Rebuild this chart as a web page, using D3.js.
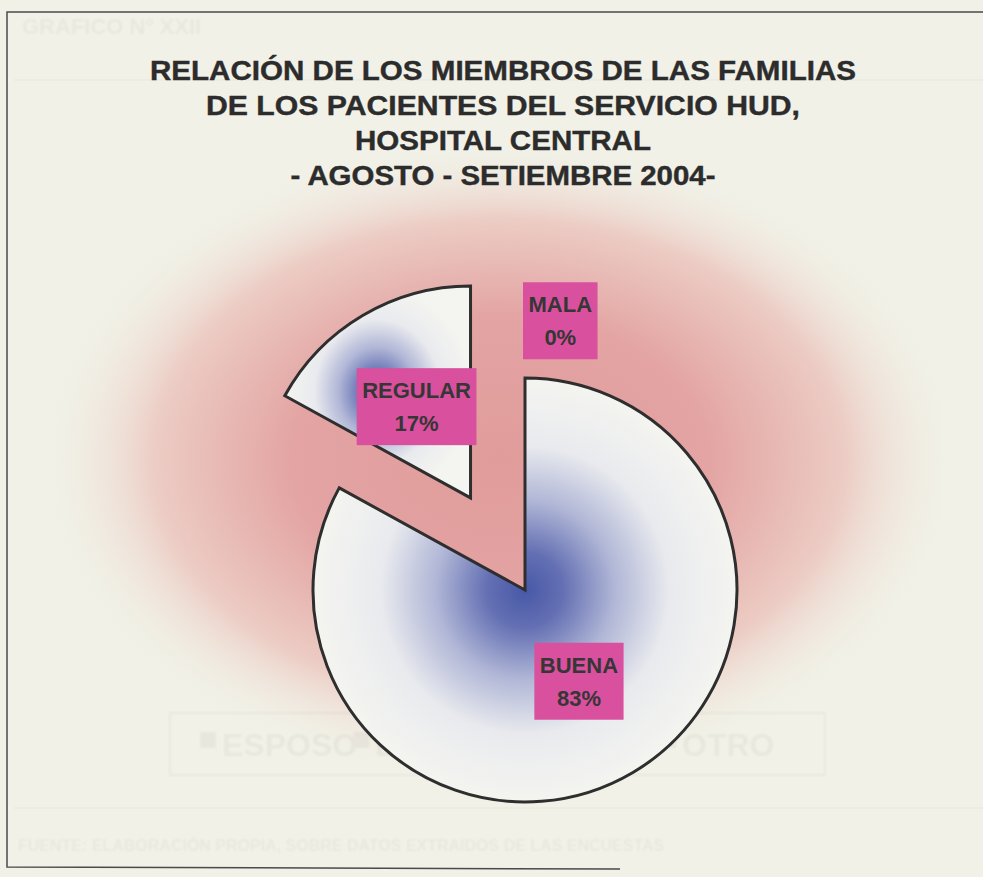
<!DOCTYPE html>
<html>
<head>
<meta charset="utf-8">
<script src="https://cdn.jsdelivr.net/npm/d3@7"></script>
<style>
  html, body { margin: 0; padding: 0; background: #f1f1e7; }
  svg { display: block; font-family: "Liberation Sans", Arial, sans-serif; }
</style>
</head>
<body>
<svg id="chart" width="983" height="877"></svg>
<script>
var categories = ["BUENA", "REGULAR", "MALA"],
    values = [83, 17, 0],
    titleLines = [
      "RELACIÓN DE LOS MIEMBROS DE LAS FAMILIAS",
      "DE LOS PACIENTES DEL SERVICIO HUD,",
      "HOSPITAL CENTRAL",
      "- AGOSTO - SETIEMBRE 2004-"
    ],
    titleWidths = [706, 594, 296, 425];

// faint print showing through from the other side of the sheet
var ghostLegend = ["ESPOSO", "ESPOSA", "AMBOS", "OTRO"];

var svg = d3.select("#chart"),
    width = 983,
    height = 877,
    cx = 525, cy = 590, radius = 212,
    explode = {REGULAR: 107};

var defs = svg.append("defs");

var glow = defs.append("radialGradient").attr("id", "glow");
glow.append("stop").attr("offset", "0").attr("stop-color", "#e09c9b");
glow.append("stop").attr("offset", "0.45").attr("stop-color", "#e3a4a3");
glow.append("stop").attr("offset", "0.75").attr("stop-color", "#ecccc4");
glow.append("stop").attr("offset", "1").attr("stop-color", "#f1f1e7").attr("stop-opacity", 0);

var blue = defs.append("radialGradient").attr("id", "blueFill");
blue.append("stop").attr("offset", "0").attr("stop-color", "#4858a7");
blue.append("stop").attr("offset", "0.18").attr("stop-color", "#6470b3");
blue.append("stop").attr("offset", "0.42").attr("stop-color", "#b0b6d6");
blue.append("stop").attr("offset", "0.68").attr("stop-color", "#e9eaee");
blue.append("stop").attr("offset", "1").attr("stop-color", "#f4f5f0");

defs.append("filter").attr("id", "soft")
  .append("feGaussianBlur").attr("stdDeviation", 1.2);

// paper + pink glow
svg.append("rect").attr("width", width).attr("height", height).attr("fill", "#f1f1e7");
svg.append("rect")
    .attr("x", 40).attr("y", 140)
    .attr("width", 920).attr("height", 640)
    .attr("fill", "url(#glow)");

// ghost print
var ghost = svg.append("g").attr("fill", "#000").attr("opacity", 0.035)
    .attr("font-weight", "bold").attr("filter", "url(#soft)");
ghost.append("text").attr("x", 22).attr("y", 34).attr("font-size", 22).text("GRAFICO Nº XXII");
ghost.append("rect").attr("x", 170).attr("y", 713).attr("width", 655).attr("height", 62)
    .attr("fill", "none").attr("stroke", "#000").attr("stroke-width", 2);
var lx = d3.scalePoint().domain(ghostLegend).range([200, 660]);
ghost.selectAll(".gl").data(ghostLegend).enter().append("text")
    .attr("x", function(d) { return lx(d) + 22; })
    .attr("y", 756)
    .attr("font-size", 32)
    .text(function(d) { return d; });
ghost.selectAll(".gs").data(ghostLegend).enter().append("rect")
    .attr("x", function(d) { return lx(d); })
    .attr("y", 732).attr("width", 16).attr("height", 16);
ghost.append("text").attr("x", 18).attr("y", 851).attr("font-size", 16)
    .text("FUENTE: ELABORACIÓN PROPIA, SOBRE DATOS EXTRAIDOS DE LAS ENCUESTAS");
svg.append("line").attr("x1", 14).attr("x2", width).attr("y1", 80).attr("y2", 80)
    .attr("stroke", "#000").attr("opacity", 0.04);
svg.append("line").attr("x1", 14).attr("x2", width).attr("y1", 808).attr("y2", 808)
    .attr("stroke", "#000").attr("opacity", 0.04);

// frame
svg.append("path")
    .attr("d", "M" + width + ",12 L7,12 L7,867 L620,869")
    .attr("fill", "none").attr("stroke", "#4a4a4a").attr("stroke-width", 1.5);

// title
svg.append("g").selectAll("text").data(titleLines).enter().append("text")
    .attr("x", 503)
    .attr("y", function(d, i) { return 80 + i * 35; })
    .attr("text-anchor", "middle")
    .attr("font-size", 27)
    .attr("font-weight", "bold")
    .attr("fill", "#2c2c2c")
    .attr("stroke", "#2c2c2c")
    .attr("stroke-width", 0.4)
    .attr("textLength", function(d, i) { return titleWidths[i]; })
    .attr("lengthAdjust", "spacingAndGlyphs")
    .text(function(d) { return d; });

// pie
var pie = d3.pie().sort(null).value(function(d) { return d; }),
    arcs = pie(values).map(function(a, i) { a.name = categories[i]; return a; }),
    arc = d3.arc().innerRadius(0).outerRadius(radius),
    outerArc = d3.arc().innerRadius(radius * 1.27).outerRadius(radius * 1.27);

function offset(d) {
  var k = explode[d.name] || 0,
      a = (d.startAngle + d.endAngle) / 2;
  return [Math.sin(a) * k, -Math.cos(a) * k];
}

var g = svg.append("g").attr("transform", "translate(" + cx + "," + cy + ")");

g.selectAll("path.slice")
  .data(arcs.filter(function(d) { return d.value > 0; }))
  .enter().append("path")
    .attr("class", "slice")
    .attr("d", arc)
    .attr("transform", function(d) { return "translate(" + offset(d) + ")"; })
    .attr("fill", "url(#blueFill)")
    .attr("stroke", "#2e2e2e")
    .attr("stroke-width", 3)
    .attr("stroke-linejoin", "miter");

// labels
var lab = g.selectAll("g.label").data(arcs).enter().append("g").attr("class", "label");

lab.each(function(d) {
  var el = d3.select(this),
      box = el.append("rect").attr("fill", "#d9519e"),
      t1 = el.append("text").text(d.name),
      t2 = el.append("text").text(d.value + "%");
  el.selectAll("text")
      .attr("text-anchor", "middle")
      .attr("font-size", 22)
      .attr("font-weight", "bold")
      .attr("fill", "#363636");
  var w = Math.max(t1.node().getComputedTextLength(), t2.node().getComputedTextLength()) + 11,
      h = 77, p, o = offset(d);
  if (d.value > 0) {
    p = arc.centroid(d);
    p = [p[0] + o[0], p[1] + o[1]];
  } else {
    p = outerArc.centroid(d);
    p = [p[0] + w / 2 - 2, p[1]];
  }
  box.attr("x", p[0] - w / 2).attr("y", p[1] - h / 2).attr("width", w).attr("height", h);
  t1.attr("x", p[0]).attr("y", p[1] - h / 2 + 30);
  t2.attr("x", p[0]).attr("y", p[1] - h / 2 + 63);
});
</script>
</body>
</html>
